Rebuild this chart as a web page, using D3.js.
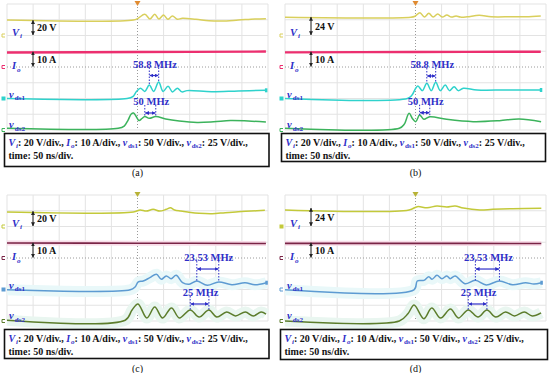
<!DOCTYPE html>
<html><head><meta charset="utf-8">
<script src="https://cdn.jsdelivr.net/npm/d3@7"></script>
<style>
html,body{margin:0;padding:0;background:#fff;}
svg{display:block;font-family:"Liberation Serif","Times New Roman",serif;}
</style></head><body>
<svg id="chart" width="550" height="373"></svg>
<script>
// scope grid: 50 ns/div over 10 div, 8 vertical div
const timeGrid = [-250, -200, -150, -100, -50, 0, 50, 100, 150, 200, 250];
const divGrid = [-4, -3, -2, -1, 0, 1, 2, 3, 4];
const panelLabels = ['(a)', '(b)', '(c)', '(d)'];
const viStepLabels = ['20 V', '24 V', '20 V', '24 V'];
const viSteps = [20, 24, 20, 24];
const ioSteps = [10, 10, 10, 10];

// ground position (div) and units per div for each channel
const channelGround = { vi: 2, io: 0, vds1: -2, vds2: -4 };
const channelPerDiv = { vi: 20, io: 10, vds1: 50, vds2: 25 };

// traces: [time ns, value in V or A]
const viA = [[-250,19.6],[-8,19.6],[1,21.8],[14,27],[24,21],[33,27],[41,21],[50,26],[58,20.6],[67,24.8],[76,20.6],[86,21.8],[112,20.6],[137,18.8],[161,18.4],[193,19.6],[225,21],[246,21.4]];
const ioA = [[-250,9.2],[0,9.5],[246,9.8]];
const vds1A = [[-250,0],[-20,0],[-9,6],[-2,22],[5.7,32.5],[14,22.5],[22.6,42.5],[31,22.5],[40.6,52.5],[49,22.5],[58.5,39],[67,21],[76.4,32.5],[85,21],[95,25],[142,21.5],[193,24],[246,26]];
const vds2A = [[-250,2.75],[-37,2.75],[-25.5,6.25],[-18,15.75],[-12,25.5],[-7.5,27],[-3,22.25],[3,15],[8.5,18.25],[14,21.5],[22.6,18.5],[35,21.5],[54,17.5],[80,14.25],[114,12],[146,13],[178,15],[212,14.25],[246,12.75]];

const viB = [[-250,23.2],[-9,23.2],[-1,24.5],[8.5,29],[17,23.4],[25.5,28.2],[34,23.4],[42.5,27.4],[51.3,23.4],[60,26],[68.9,23.4],[77.7,24.8],[85.8,23.4],[99,23.8],[122,25.6],[145,23.8],[184,23.8],[212,23.8],[240,24.8]];
const ioB = [[-250,9.3],[0,9.5],[240,9.7]];
const vds1B = [[-250,0],[-15.5,0],[-6.6,11],[0.4,32.5],[4.7,39.5],[13.2,25],[21.7,48.5],[30.2,25],[38.7,51.5],[47.5,25],[57,43],[65,25],[74,37.5],[82,25],[91.5,32.5],[118,27],[174,27],[240,27]];
const vds2B = [[-250,2.75],[-31,2.75],[-21.7,9],[-12.3,26.5],[-5.7,18],[0.4,13.25],[7.9,23.75],[16,17],[27.4,21],[59.4,17],[110.4,13.25],[160.8,14.75],[198.5,17.5],[240.6,13.25]];

const viC = [[-250,18.4],[-8,18.4],[5,21],[17,19.6],[30,21.8],[42.5,19.6],[55,21.8],[63,23.8],[71,21],[83,19.6],[96,18.4],[118,16.8],[143,16.2],[168,17.6],[193,18.8],[218,19.6],[244,20.6]];
const ioC = [[-250,9.5],[0,9.4],[246,9.2]];
const vds1C = [[-250,-1],[-14,-1],[-4.7,8],[1.5,24],[10.9,27],[23.6,37.5],[36.2,48.5],[45.7,32.5],[55.1,43],[64.5,34.5],[74,45],[86.4,21.5],[99,16.5],[113.6,27],[133.6,13.5],[155.7,24],[180.8,15],[206,21.5],[225,15],[246.8,21.5]];
const vds2C = [[-250,1.25],[-23.6,1.25],[-10.4,17.5],[0.9,27],[17.9,4.75],[33,22.25],[48.1,4.75],[65.1,20.75],[80.2,4.75],[101,17.5],[118,6.25],[136.8,17.5],[151.9,6.25],[170.8,14.25],[187.7,8],[206.6,14.25],[221.7,8],[236.8,14.25],[246.2,11]];

const viD = [[-250,21],[-12.3,21],[3.4,25.2],[22.3,23.8],[41.1,26],[60,24.8],[75.9,26],[91.5,23.4],[123,21],[148,21.8],[186,22.6],[241,23.2]];
const ioD = [[-250,9.3],[0,9.3],[241,9.2]];
const vds1D = [[-250,-1],[-3,-1],[3.4,27],[16,29],[25.5,40.5],[31.7,32.5],[41.1,45],[50.6,34.5],[60,43],[66.4,34.5],[75.9,43],[94.7,18.5],[114.7,29],[135.5,14.5],[160.8,27],[185.8,15],[211,21.5],[226.8,17.5],[241.1,21.5]];
const vds2D = [[-250,0],[-31,0],[-14.2,12],[-2.8,25.5],[16,3.75],[31.1,20.75],[48.1,4.75],[67,19],[82.1,4.75],[101,17.5],[119.8,6.25],[136.8,17.5],[153.8,6.25],[172.6,14.25],[189.6,8],[208.5,14.25],[223.6,8],[240.6,13]];

// frequency markers: label, channel, t1, t2 (ns), arrow level (channel units)
const notesA = [{ label: '58.8 MHz', ch: 'vds1', t1: 22.6, t2: 40.6, level: 73 }, { label: '50 MHz', ch: 'vds2', t1: 14, t2: 35, level: 27 }];
const notesB = [{ label: '58.8 MHz', ch: 'vds1', t1: 21.7, t2: 38.7, level: 71.5 }, { label: '50 MHz', ch: 'vds2', t1: 7.9, t2: 27.4, level: 27.5 }];
const notesC = [{ label: '23.53 MHz', ch: 'vds1', t1: 113.6, t2: 155.7, level: 65 }, { label: '25 MHz', ch: 'vds2', t1: 101, t2: 136.8, level: 27 }];
const notesD = [{ label: '23.53 MHz', ch: 'vds1', t1: 114.7, t2: 160.8, level: 65 }, { label: '25 MHz', ch: 'vds2', t1: 101, t2: 136.8, level: 27 }];

var svg = d3.select('#chart');
var BLUE = '#2f2fc8';

// two colour themes of the scope screenshots
var themeBright = { vi: '#d9cf5c', io: '#ec2f6f', vds1: '#2fd2cc', vds2: '#3cb35c', trig: '#e08a30', glow: null, ioWidth: 2.4 };
var themeDark = { vi: '#c3c93a', io: '#7a2446', vds1: '#5d9bd2', vds2: '#5c7d2c', trig: '#b8b236',
    glow: { io: '#f8dce8', vds1: '#e9f8f9', vds2: '#e9f6f0' }, ioWidth: 1.6 };

var panels = [
    { ox: 0, oy: 0, traces: { vi: viA, io: ioA, vds1: vds1A, vds2: vds2A }, notes: notesA, theme: themeBright, box: [4.5, 133.5, 264.5, 33] },
    { ox: 278, oy: 0, traces: { vi: viB, io: ioB, vds1: vds1B, vds2: vds2B }, notes: notesB, theme: themeBright, box: [3.5, 133.5, 264, 28] },
    { ox: 0, oy: 191, traces: { vi: viC, io: ioC, vds1: vds1C, vds2: vds2C }, notes: notesC, theme: themeDark, box: [4.5, 138.5, 264.5, 29] },
    { ox: 278, oy: 191, traces: { vi: viD, io: ioD, vds1: vds1D, vds2: vds2D }, notes: notesD, theme: themeDark, box: [2.5, 138.5, 267, 30] }
];

// arrowhead markers for frequency spans and scale arrows
var defs = svg.append('defs');
[['arrBlue', BLUE], ['arrBlack', '#222']].forEach(function (m) {
    defs.append('marker')
        .attr('id', m[0])
        .attr('viewBox', '0 0 6 6')
        .attr('refX', 5.5).attr('refY', 3)
        .attr('markerWidth', 4).attr('markerHeight', 4)
        .attr('markerUnits', 'userSpaceOnUse')
        .attr('orient', 'auto-start-reverse')
        .append('path').attr('d', 'M0,0 L6,3 L0,6 z').style('fill', m[1]);
});

// text with subscript, e.g. V_i
function subLabel(sel, x, y, main, sub, size) {
    var t = sel.append('text')
        .attr('x', x).attr('y', y)
        .style('font-size', size + 'px')
        .style('font-weight', 'bold')
        .style('fill', BLUE);
    t.append('tspan').text(main).style('font-style', 'italic');
    t.append('tspan').text(sub).attr('dx', 1).attr('dy', size * 0.28).style('font-size', (size * 0.68) + 'px')
        .style('font-style', sub.length > 1 ? 'normal' : 'italic');
    return t;
}

function drawPanel(p, idx) {
    var g = svg.append('g').attr('transform', 'translate(' + p.ox + ',' + p.oy + ')');
    var th = p.theme;

    var x = d3.scaleLinear().domain([-250, 250]).range([7, 268]);
    var yDiv = d3.scaleLinear().domain([-4, 4]).range([130, 4]);

    function chScale(ch) {
        var g0 = channelGround[ch];
        return d3.scaleLinear().domain([0, channelPerDiv[ch]]).range([yDiv(g0), yDiv(g0 + 1)]);
    }

    // grid
    g.selectAll('.vgrid').data(timeGrid.filter(function (t) { return t !== 0; }))
        .enter().append('line')
        .attr('x1', function (d) { return x(d); }).attr('x2', function (d) { return x(d); })
        .attr('y1', yDiv(4)).attr('y2', yDiv(-4))
        .style('stroke', '#e3e3e3').style('stroke-width', 1);
    g.selectAll('.hgrid').data(divGrid.filter(function (d) { return d !== 0; }))
        .enter().append('line')
        .attr('x1', x(-250)).attr('x2', x(250))
        .attr('y1', function (d) { return yDiv(d); }).attr('y2', function (d) { return yDiv(d); })
        .style('stroke', '#e3e3e3').style('stroke-width', 1);
    g.append('line')
        .attr('x1', x(0)).attr('x2', x(0)).attr('y1', yDiv(4)).attr('y2', yDiv(-4))
        .style('stroke', '#9a9a9a').style('stroke-width', 1).style('stroke-dasharray', '1,2');
    g.append('line')
        .attr('x1', x(-250)).attr('x2', x(250)).attr('y1', yDiv(0)).attr('y2', yDiv(0))
        .style('stroke', '#9a9a9a').style('stroke-width', 1).style('stroke-dasharray', '1,2');

    // trigger marker
    g.append('path')
        .attr('d', 'M' + (x(0) - 3) + ',' + (yDiv(4) - 3) + ' L' + (x(0) + 3) + ',' + (yDiv(4) - 3) + ' L' + x(0) + ',' + (yDiv(4) + 2) + 'z')
        .style('fill', th.trig);

    // traces
    ['vi', 'io', 'vds1', 'vds2'].forEach(function (ch) {
        var ys = chScale(ch);
        var line = d3.line()
            .x(function (d) { return x(d[0]); })
            .y(function (d) { return ys(d[1]); })
            .curve(d3.curveCatmullRom.alpha(0.5));
        if (th.glow && th.glow[ch]) {
            g.append('path').attr('d', line(p.traces[ch]))
                .style('fill', 'none').style('stroke', th.glow[ch])
                .style('stroke-width', ch === 'io' ? 5 : 11).style('stroke-linejoin', 'round');
        }
        g.append('path').attr('d', line(p.traces[ch]))
            .style('fill', 'none').style('stroke', th[ch])
            .style('stroke-width', ch === 'io' ? th.ioWidth : 1.5)
            .style('stroke-linejoin', 'round');

        // ground marker at left edge
        var gy = yDiv(channelGround[ch]);
        var filled = (idx < 3 && ch === 'vds1') || (idx === 3 && ch === 'vi');
        if (filled) {
            g.append('rect').attr('x', 1.5).attr('y', gy - 2).attr('width', 4).attr('height', 4).style('fill', th[ch]);
        } else {
            g.append('path').attr('d', 'M5,' + (gy - 1.5) + ' L2,' + (gy - 1.5) + ' L2,' + (gy + 1.5) + ' L5,' + (gy + 1.5))
                .style('fill', 'none').style('stroke', th[ch]).style('stroke-width', 1);
        }
    });
    // end marker of vds1
    var last = p.traces.vds1[p.traces.vds1.length - 1];
    g.append('rect').attr('x', x(last[0]) - 1).attr('y', chScale('vds1')(last[1]) - 2)
        .attr('width', 2.5).attr('height', 4).style('fill', th.vds1);

    // channel names
    subLabel(g, 12, yDiv(channelGround.vi), 'V', 'i', 10.5);
    subLabel(g, 12, yDiv(channelGround.io) + 2, 'I', 'o', 10.5);
    subLabel(g, 9, yDiv(channelGround.vds1) - 1, 'v', 'ds1', 10.5);
    subLabel(g, 9, yDiv(channelGround.vds2) - 2, 'v', 'ds2', 10.5);

    // scale arrows
    [['vi', viSteps[idx], viStepLabels[idx]], ['io', ioSteps[idx], ioSteps[idx] + ' A']].forEach(function (s) {
        var ys = chScale(s[0]);
        var ya = ys(0), yb = ys(s[1]);
        g.append('line').attr('x1', 33).attr('x2', 33).attr('y1', ya - 0.5).attr('y2', yb + 0.5)
            .style('stroke', '#222').style('stroke-width', 1)
            .attr('marker-start', 'url(#arrBlack)').attr('marker-end', 'url(#arrBlack)');
        g.append('text').attr('x', 37).attr('y', (ya + yb) / 2 + 3.5)
            .text(s[2]).style('font-size', '10px').style('font-weight', 'bold').style('fill', '#111');
    });

    // frequency annotations
    p.notes.forEach(function (n) {
        var ys = chScale(n.ch);
        var ay = ys(n.level);
        var tr = p.traces[n.ch];
        [n.t1, n.t2].forEach(function (t) {
            var i = d3.bisector(function (d) { return d[0]; }).left(tr, t);
            var v = tr[Math.min(i, tr.length - 1)][1];
            g.append('line').attr('x1', x(t)).attr('x2', x(t)).attr('y1', ay - 8).attr('y2', ys(v))
                .style('stroke', BLUE).style('stroke-width', 1).style('stroke-dasharray', '1.5,1.5');
        });
        g.append('line').attr('x1', x(n.t1) + 0.5).attr('x2', x(n.t2) - 0.5).attr('y1', ay).attr('y2', ay)
            .style('stroke', BLUE).style('stroke-width', 1.2)
            .attr('marker-start', 'url(#arrBlue)').attr('marker-end', 'url(#arrBlue)');
        g.append('text').attr('x', (x(n.t1) + x(n.t2)) / 2 + 1).attr('y', ay - 8)
            .attr('text-anchor', 'middle').text(n.label)
            .style('font-size', '10.5px').style('font-weight', 'bold').style('fill', BLUE);
    });

    // settings box
    var b = p.box;
    g.append('rect').attr('x', b[0]).attr('y', b[1]).attr('width', b[2]).attr('height', b[3])
        .style('fill', '#fff').style('stroke', '#111').style('stroke-width', 1.6);
    var t1 = g.append('text').attr('x', b[0] + 4).attr('y', b[1] + 12.5)
        .style('font-size', '10px').style('font-weight', 'bold').style('fill', '#111');
    var parts = [['V', 'i', ': 20 V/div., '], ['I', 'o', ': 10 A/div., '], ['v', 'ds1', ': 50 V/div., '], ['v', 'ds2', ': 25 V/div.,']];
    parts.forEach(function (pt) {
        t1.append('tspan').text(pt[0]).style('fill', BLUE).style('font-style', 'italic');
        t1.append('tspan').text(pt[1]).attr('dx', 0.8).attr('dy', 2).style('fill', BLUE).style('font-size', '7px')
            .style('font-style', pt[1].length > 1 ? 'normal' : 'italic');
        t1.append('tspan').text(pt[2]).attr('dy', -2);
    });
    g.append('text').attr('x', b[0] + 4).attr('y', b[1] + 25.2).text('time: 50 ns/div.')
        .style('font-size', '10px').style('font-weight', 'bold').style('fill', '#111');

    // caption
    g.append('text').attr('x', 137.5).attr('y', idx < 2 ? 176 : 181)
        .attr('text-anchor', 'middle').text(panelLabels[idx])
        .style('font-size', '10px').style('fill', '#111');
}

panels.forEach(drawPanel);
</script>
</body></html>
